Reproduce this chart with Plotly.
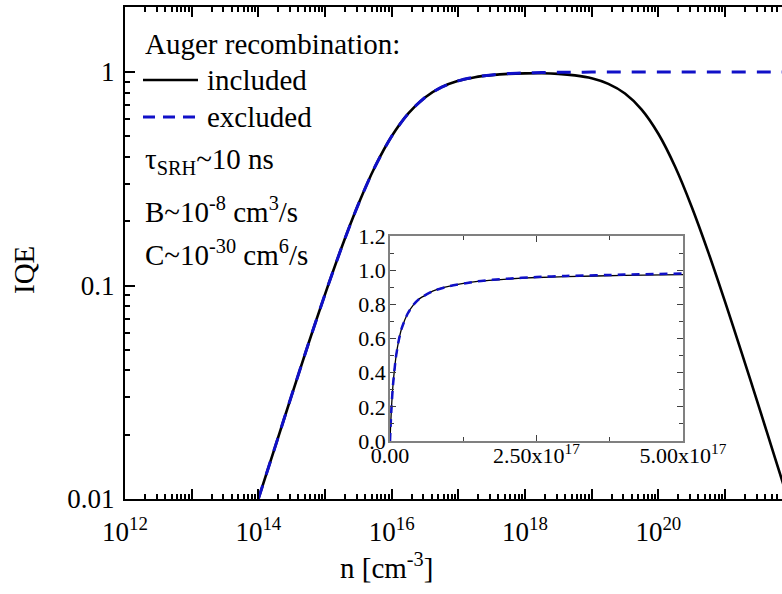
import plotly.graph_objects as go

# ---------------- data ----------------
n_main = [1e14, 1.78e14, 3.16e14, 5.62e14, 1e15, 1.78e15, 3.16e15, 5.62e15,
          1e16, 1.78e16, 3.16e16, 5.62e16, 1e17, 1.78e17, 3.16e17, 5.62e17,
          1e18, 1.78e18, 3.16e18, 5.62e18, 1e19, 1.78e19, 3.16e19, 5.62e19,
          1e20, 1.78e20, 3.16e20, 5.62e20, 1e21, 1.78e21, 3.16e21, 5.62e21, 1e22]
iqe_included = [0.0100, 0.0175, 0.0306, 0.0532, 0.0909, 0.151, 0.240, 0.360,
                0.500, 0.640, 0.760, 0.849, 0.909, 0.946, 0.967, 0.980,
                0.985, 0.986, 0.980, 0.964, 0.935, 0.880, 0.793, 0.667,
                0.514, 0.361, 0.234, 0.143, 0.0840, 0.0484, 0.0276, 0.0156, 0.0088]
iqe_excluded = [0.0100, 0.0175, 0.0306, 0.0532, 0.0909, 0.151, 0.240, 0.360,
                0.500, 0.640, 0.760, 0.849, 0.909, 0.947, 0.969, 0.983,
                0.990, 0.994, 0.997, 0.998, 0.999, 1.0, 1.0, 1.0,
                1.0, 1.0, 1.0, 1.0, 1.0, 1.0, 1.0, 1.0, 1.0]

n_inset = [0, 0.01e17, 0.025e17, 0.05e17, 0.1e17, 0.15e17, 0.2e17, 0.3e17, 0.4e17,
           0.5e17, 0.75e17, 1.0e17, 1.5e17, 2.0e17, 2.5e17, 3.0e17, 4.0e17, 5.0e17]
inset_excluded = [0.0, 0.087, 0.192, 0.323, 0.488, 0.590, 0.660, 0.745, 0.797,
                  0.832, 0.880, 0.905, 0.935, 0.950, 0.960, 0.966, 0.974, 0.980]
inset_included = [0.0, 0.087, 0.192, 0.323, 0.488, 0.590, 0.660, 0.745, 0.797,
                  0.832, 0.880, 0.905, 0.934, 0.948, 0.957, 0.962, 0.969, 0.974]

x_major_exp = list(range(12, 22))
x_labels = ["10<sup>%d</sup>" % e if e % 2 == 0 else "" for e in x_major_exp]
y_major = [0.01, 0.1, 1]
y_labels = ["0.01", "0.1", "1"]
inset_x_ticks = [0, 2.5e17, 5e17]
inset_x_labels = ["0.00", "2.50x10<sup>17</sup>", "5.00x10<sup>17</sup>"]
inset_y_ticks = [0, 0.2, 0.4, 0.6, 0.8, 1.0, 1.2]
inset_y_labels = ["0.0", "0.2", "0.4", "0.6", "0.8", "1.0", "1.2"]

# ---------------- layout helpers ----------------
W, H = 782, 594
L, T, B = 125, 7, 499
PW, PH = W - L, B - T


def px(x):
    return (x - L) / PW


def py(y):
    return (B - y) / PH


FONT = "Liberation Serif"
BLUE = "#1010c8"

x_major_vals = [10.0 ** e for e in x_major_exp]
x_minor_vals = [d * 10.0 ** e for e in range(12, 22) for d in range(2, 10)]
x_minor_vals = [v for v in x_minor_vals if v < 7e21]
y_minor_vals = [d * 10.0 ** e for e in range(-2, 1) for d in range(2, 10)]
y_minor_vals = [v for v in y_minor_vals if v < 2.1]

fig = go.Figure()
fig.add_trace(go.Scatter(x=n_main, y=iqe_included, mode="lines",
                         line=dict(color="black", width=2.6, shape="spline", smoothing=0.8),
                         xaxis="x", yaxis="y", showlegend=False))
fig.add_trace(go.Scatter(x=n_main, y=iqe_excluded, mode="lines",
                         line=dict(color=BLUE, width=3, dash="14px,11px", shape="spline", smoothing=0.8),
                         xaxis="x", yaxis="y", showlegend=False))
fig.add_trace(go.Scatter(x=n_inset, y=inset_included, mode="lines",
                         line=dict(color="black", width=1.3, shape="spline", smoothing=0.6),
                         xaxis="x2", yaxis="y2", showlegend=False))
fig.add_trace(go.Scatter(x=n_inset, y=inset_excluded, mode="lines",
                         line=dict(color=BLUE, width=2.5, dash="8px,6px", shape="spline", smoothing=0.6),
                         xaxis="x2", yaxis="y2", showlegend=False))

fig.update_layout(
    width=W, height=H, autosize=False,
    margin=dict(l=L, r=0, t=T, b=H - B, pad=0, autoexpand=False),
    paper_bgcolor="white", plot_bgcolor="white",
    font=dict(family=FONT, color="black", size=27),
    showlegend=False,
    xaxis=dict(type="log", range=[12, 21.855], domain=[0, 1], anchor="y", automargin=False,
               showgrid=False, zeroline=False,
               showline=True, linecolor="black", linewidth=2, mirror="allticks",
               ticks="inside", ticklen=10, tickwidth=1.5, tickcolor="black",
               tickmode="array", tickvals=x_major_vals, ticktext=x_labels,
               tickfont=dict(size=27, family=FONT, color="black"), ticklabelstandoff=8,
               minor=dict(ticks="inside", ticklen=5, tickwidth=1.5, tickcolor="black",
                          tickmode="array", tickvals=x_minor_vals, showgrid=False)),
    yaxis=dict(type="log", range=[-2, 0.3045], domain=[0, 1], anchor="x", automargin=False,
               showgrid=False, zeroline=False,
               showline=True, linecolor="black", linewidth=2, mirror=False,
               ticks="inside", ticklen=10, tickwidth=1.5, tickcolor="black",
               tickmode="array", tickvals=y_major, ticktext=y_labels,
               tickfont=dict(size=27, family=FONT, color="black"), ticklabelstandoff=3,
               minor=dict(ticks="inside", ticklen=5, tickwidth=1.5, tickcolor="black",
                          tickmode="array", tickvals=y_minor_vals, showgrid=False)),
    xaxis2=dict(range=[0, 5e17], domain=[px(390), px(683)], anchor="y2", automargin=False,
                showgrid=False, zeroline=False,
                showline=True, linecolor="#808080", linewidth=1.5, mirror="allticks",
                ticks="inside", ticklen=6, tickwidth=1, tickcolor="#404040",
                tickmode="array", tickvals=inset_x_ticks, ticktext=inset_x_labels,
                tickfont=dict(size=22, family=FONT, color="black"), ticklabelstandoff=-6,
                minor=dict(ticks="inside", ticklen=4, tickwidth=1, tickcolor="#404040",
                           tickmode="array", tickvals=[1.25e17, 3.75e17], showgrid=False)),
    yaxis2=dict(range=[0, 1.2], domain=[py(441), py(236)], anchor="x2", automargin=False,
                showgrid=False, zeroline=False,
                showline=True, linecolor="#808080", linewidth=1.5, mirror="allticks",
                ticks="inside", ticklen=6, tickwidth=1, tickcolor="#404040",
                tickmode="array", tickvals=inset_y_ticks, ticktext=inset_y_labels,
                tickfont=dict(size=22, family=FONT, color="black"), ticklabelstandoff=-2,
                minor=dict(ticks="inside", ticklen=4, tickwidth=1, tickcolor="#404040",
                           tickmode="array", tickvals=[0.1, 0.3, 0.5, 0.7, 0.9, 1.1], showgrid=False)),
)

# text block (legend and parameters)
texts = [
    ("Auger recombination:", 143, 44),
    ("included", 205, 80),
    ("excluded", 205, 117),
    ("τ<sub>SRH</sub>~10 ns", 143, 161),
    ("B~10<sup>-8</sup> cm<sup>3</sup>/s", 143, 210),
    ("C~10<sup>-30</sup> cm<sup>6</sup>/s", 143, 253),
]
for txt, x, y in texts:
    fig.add_annotation(text=txt, x=px(x), y=py(y), xref="paper", yref="paper",
                       xanchor="left", yanchor="middle", showarrow=False,
                       font=dict(size=29, family=FONT, color="black"))

fig.add_shape(type="line", xref="paper", yref="paper",
              x0=px(143), x1=px(198), y0=py(80), y1=py(80),
              line=dict(color="black", width=2.6))
fig.add_shape(type="line", xref="paper", yref="paper",
              x0=px(143), x1=px(198), y0=py(117), y1=py(117),
              line=dict(color=BLUE, width=3, dash="12px,8px"))

# axis titles
fig.add_annotation(text="n [cm<sup>-3</sup>]", x=px(386), y=py(566), xref="paper", yref="paper",
                   xanchor="center", yanchor="middle", showarrow=False,
                   font=dict(size=29, family=FONT, color="black"))
fig.add_annotation(text="IQE", x=px(24), y=py(270), xref="paper", yref="paper",
                   xanchor="center", yanchor="middle", showarrow=False, textangle=-90,
                   font=dict(size=29, family=FONT, color="black"))

fig.write_html("out.html")
